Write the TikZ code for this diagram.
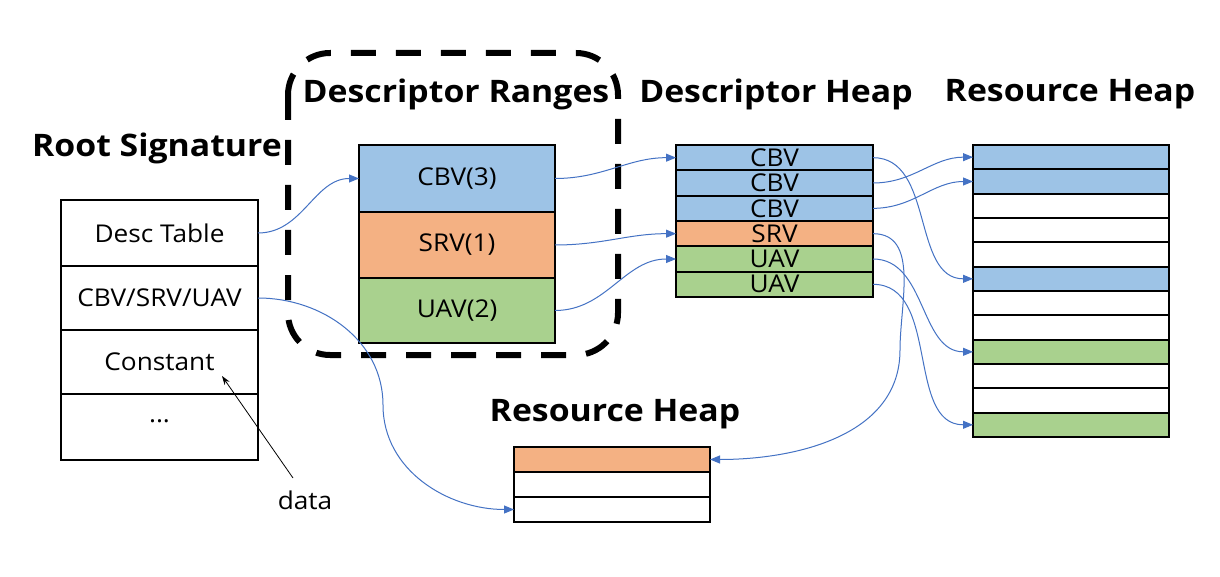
\documentclass[tikz,border=0pt]{standalone}
\usepackage{fontspec}
\setmainfont{Open Sans}[FakeStretch=1.07]
\newfontfamily\titlefont{Open Sans}[FakeStretch=1.09]
\usetikzlibrary{arrows.meta}
\definecolor{cblue}{HTML}{9DC3E6}
\definecolor{corange}{HTML}{F4B183}
\definecolor{cgreen}{HTML}{A9D18E}
\definecolor{lblue}{HTML}{4472C4}
\begin{document}
\begin{tikzpicture}[x=1pt,y=1pt,
  title/.style={font=\titlefont\fontsize{31}{35}\selectfont\bfseries, inner sep=0pt},
  lbl/.style={font=\fontsize{24.5}{28}\selectfont},
  cell/.style={draw=black, line width=2pt, inner sep=0pt, outer sep=0pt, minimum width=#1},
  link/.style={draw=lblue, line width=1pt, -{Triangle[length=10pt,width=8pt]}}
]
\useasboundingbox (0,0) rectangle (1220,-577);
\fill[white] (0,0) rectangle (1220,-577);

% titles
\node[title] (tRoot) at (157,-148) {Root Signature};
\node[title] (tRanges) at (456,-94) {Descriptor Ranges};
\node[title] (tDHeap) at (776,-94) {Descriptor Heap};
\node[title] (tRHeap) at (1070,-94) {Resource Heap};
\node[title] (tRHeapB) at (615,-414) {Resource Heap};

% root signature
\node[cell=197pt, minimum height=66pt, lbl] (rs1) at (159.5,-233) {Desc Table};
\node[cell=197pt, minimum height=64pt, lbl] (rs2) at (159.5,-298) {CBV/SRV/UAV};
\node[cell=197pt, minimum height=64pt, lbl] (rs3) at (159.5,-362) {Constant};
\node[cell=197pt, minimum height=66pt] (rs4) at (159.5,-427) {};
\node[lbl] (dots) at (159.5,-421) {...};

% descriptor ranges dashed box
\draw[line width=6pt, dash pattern=on 25pt off 20pt, rounded corners=42pt] (288,-53) rectangle (618,-355);
\node[cell=196pt, minimum height=67pt, fill=cblue, lbl] (dr1) at (457,-178.5) {CBV(3)};
\node[cell=196pt, minimum height=66pt, fill=corange, lbl] (dr2) at (457,-245) {SRV(1)};
\node[cell=196pt, minimum height=65pt, fill=cgreen, lbl] (dr3) at (457,-310.5) {UAV(2)};

% descriptor heap
\node[cell=197pt, minimum height=25.33pt, fill=cblue, lbl] (dh1) at (774.5,-157.67) {CBV};
\node[cell=197pt, minimum height=25.33pt, fill=cblue, lbl] (dh2) at (774.5,-183) {CBV};
\node[cell=197pt, minimum height=25.33pt, fill=cblue, lbl] (dh3) at (774.5,-208.33) {CBV};
\node[cell=197pt, minimum height=25.33pt, fill=corange, lbl] (dh4) at (774.5,-233.67) {SRV};
\node[cell=197pt, minimum height=25.33pt, fill=cgreen, lbl] (dh5) at (774.5,-259) {UAV};
\node[cell=197pt, minimum height=25.33pt, fill=cgreen, lbl] (dh6) at (774.5,-284.33) {UAV};

% resource heap right
\foreach \i/\c in {0/cblue,1/cblue,2/white,3/white,4/white,5/cblue,6/white,7/white,8/cgreen,9/white,10/white,11/cgreen}{
  \node[cell=196pt, minimum height=24.33pt, fill=\c] (rh\i) at (1071,{-145-12.17-\i*24.33}) {};
}

% resource heap bottom
\node[cell=196pt, minimum height=25pt, fill=corange] (bh1) at (612,-459.5) {};
\node[cell=196pt, minimum height=25pt, fill=white] (bh2) at (612,-484.5) {};
\node[cell=196pt, minimum height=25pt, fill=white] (bh3) at (612,-509.5) {};

% data label
\node[lbl] (data) at (305,-500) {data};
\coordinate (dataTip) at (222,-376);
\coordinate (dataStart) at (293,-478);
\draw[line width=0.8pt, -{Stealth[length=9pt,width=6pt]}] (dataStart) -- (dataTip);

% links
\coordinate (c2) at (383,-405);
\coordinate (c9) at (900,-350);
\draw[link] (rs1.east) to[out=0,in=180] (dr1.west);
\draw[link] (rs2.east) to[out=0,in=90] (c2) to[out=-90,in=180] (bh3.west);
\draw[link] (dr1.east) to[out=0,in=180] (dh1.west);
\draw[link] (dr2.east) to[out=0,in=180] (dh4.west);
\draw[link] (dr3.east) to[out=0,in=180] (dh5.west);
\draw[link] (dh1.east) to[out=0,in=180] (rh5.west);
\draw[link] (dh2.east) to[out=0,in=180] (rh0.west);
\draw[link] (dh3.east) to[out=0,in=180] (rh1.west);
\draw[link] (dh4.east) to[out=0,in=90] (c9) to[out=-90,in=0] (bh1.east);
\draw[link] (dh5.east) to[out=0,in=180] (rh8.west);
\draw[link] (dh6.east) to[out=0,in=180] (rh11.west);
\end{tikzpicture}
\end{document}
